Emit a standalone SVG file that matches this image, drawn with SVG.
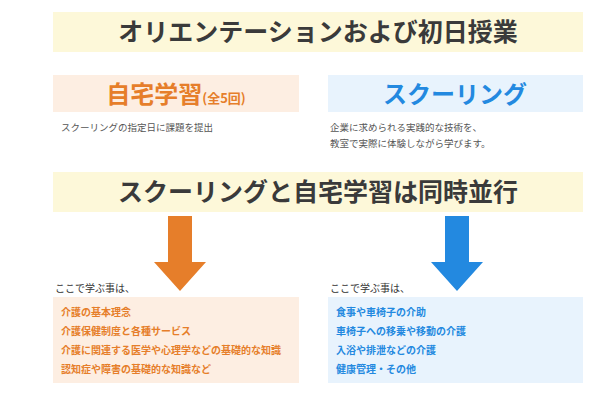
<svg xmlns="http://www.w3.org/2000/svg" width="600" height="400" viewBox="0 0 600 400">
<style>
text{font-family:"Noto Sans CJK JP","Noto Sans",sans-serif}
.ban{fill:#fdf8d9}
.bt{font-size:25px;font-weight:bold;fill:#3a3a3a;text-anchor:middle}
.d{font-size:9.5px;fill:#555}
.o{fill:#e67e2a}.b{fill:#2389e0}
.li{font-size:10px;font-weight:bold}
</style>
<rect width="600" height="400" fill="#fff"/>
<g id="title"><rect class="ban" x="53" y="12" width="530" height="40"/><text class="bt" x="318" y="41">オリエンテーションおよび初日授業</text></g>
<g id="home"><rect x="53" y="75" width="246" height="37" fill="#fdeee2"/>
<text x="176" y="103" text-anchor="middle" font-weight="bold" class="o"><tspan font-size="24">自宅学習</tspan><tspan font-size="13">(全5回)</tspan></text>
<text class="d" x="61" y="131">スクーリングの指定日に課題を提出</text></g>
<g id="school"><rect x="328" y="75" width="255" height="37" fill="#e8f3fd"/>
<text x="455" y="103" text-anchor="middle" font-weight="bold" font-size="24" class="b">スクーリング</text>
<text class="d" x="330" y="131">企業に求められる実践的な技術を、</text>
<text class="d" x="330" y="147">教室で実際に体験しながら学びます。</text></g>
<g id="parallel"><rect class="ban" x="53" y="172" width="530" height="40"/><text class="bt" x="318" y="201">スクーリングと自宅学習は同時並行</text></g>
<g id="connectors">
<polygon class="o" points="168,216 192,216 192,262 206,262 180,291 154,262 168,262"/>
<polygon class="b" points="445,216 469,216 469,262 483,262 457,291 431,262 445,262"/>
</g>
<g id="list1"><text x="55" y="292" font-size="10" fill="#333">ここで学ぶ事は、</text>
<rect x="53" y="297" width="246" height="86" fill="#fdeee2"/>
<g class="o li"><text x="61" y="316">介護の基本理念</text><text x="61" y="335">介護保健制度と各種サービス</text><text x="61" y="354">介護に関連する医学や心理学などの基礎的な知識</text><text x="61" y="373">認知症や障害の基礎的な知識など</text></g></g>
<g id="list2"><text x="330" y="292" font-size="10" fill="#333">ここで学ぶ事は、</text>
<rect x="328" y="297" width="255" height="86" fill="#e8f3fd"/>
<g class="b li"><text x="336" y="316">食事や車椅子の介助</text><text x="336" y="335">車椅子への移乗や移動の介護</text><text x="336" y="354">入浴や排泄などの介護</text><text x="336" y="373">健康管理・その他</text></g></g>
</svg>
